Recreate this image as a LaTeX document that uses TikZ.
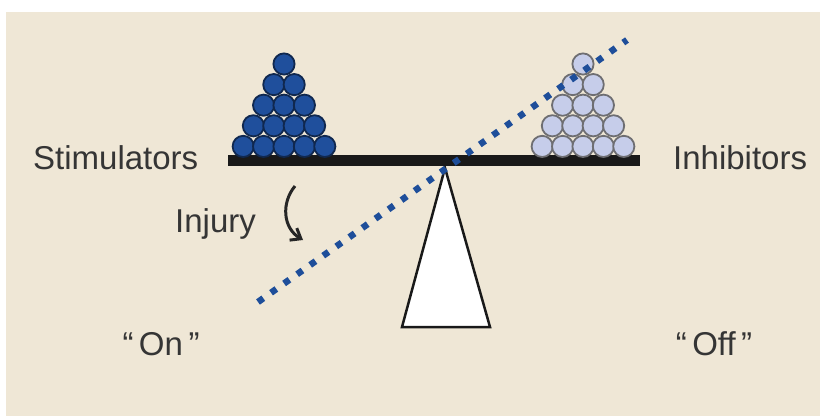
\documentclass[tikz,border=0pt]{standalone}
\usepackage{fontspec}
\setmainfont{Liberation Sans}
\usepackage{xcolor}
\definecolor{paper}{HTML}{EFE7D6}
\definecolor{ink}{HTML}{353535}
\definecolor{stimfill}{HTML}{1F4F9C}
\definecolor{stimline}{HTML}{10284F}
\definecolor{inhfill}{HTML}{C6CDEA}
\definecolor{inhline}{HTML}{6E6E72}
\definecolor{dotblue}{HTML}{1E4E9A}
\usepackage{tikz}
\usetikzlibrary{arrows.meta}
\tikzset{
    label_text/.style={font=\fontsize{33}{38}\selectfont, text=ink, inner sep=0pt},
    stim_ball/.style={draw=stimline, fill=stimfill, line width=1.8pt},
    inh_ball/.style={draw=inhline, fill=inhfill, line width=1.8pt},
    beam/.style={fill=black!90, draw=none},
    pivot/.style={draw=black!90, fill=white, line width=2.5pt, line join=miter},
    tilt_line/.style={dotblue, line width=6.5pt, dash pattern=on 6.5pt off 9.5pt},
    turn_arrow/.style={-{Straight Barb[length=9pt, width=14pt, line width=3pt]}, line width=3pt, black!85}
}

\begin{document}
\begin{tikzpicture}[x=1pt, y=-1pt]
  \useasboundingbox (0,0) rectangle (820,416);
  % Background
  \fill[white] (0,0) rectangle (820,416);
  \fill[paper] (6,12) rectangle (820,416);

  % Fulcrum and beam
  \draw[pivot] (445,168) -- (402,327) -- (490,327) -- cycle;
  \fill[beam] (228,155) rectangle (640,166);

  % Ball piles
  \foreach \r in {0,...,4} {
    \foreach \i in {0,...,\r} {
      \draw[stim_ball] ({284+(\i-\r/2)*20.4}, {64+\r*20.6}) circle (10.6pt);
      \draw[inh_ball] ({583+(\i-\r/2)*20.4}, {64+\r*20.6}) circle (10.6pt);
    }
  }

  % Tilted dotted line
  \coordinate (tilt_low) at (258,302);
  \coordinate (tilt_high) at (627,40);
  \draw[tilt_line] (tilt_low) -- (tilt_high);

  % Labels
  \node[label_text, anchor=base west] (stim) at (33,169) {Stimulators};
  \node[label_text, anchor=base west] (inh) at (673,169) {Inhibitors};
  \node[label_text, anchor=base west] (injury) at (175,232) {Injury};
  \node[label_text, anchor=base] (on) at (161,355) {“\,On\,”};
  \node[label_text, anchor=base] (off) at (714,355) {“\,Off\,”};

  % Injury arrow
  \coordinate (turn_start) at (295,186);
  \coordinate (turn_end) at (303,240);
  \draw[turn_arrow] (turn_start) .. controls (281,203) and (283,228) .. (turn_end);
\end{tikzpicture}
\end{document}
